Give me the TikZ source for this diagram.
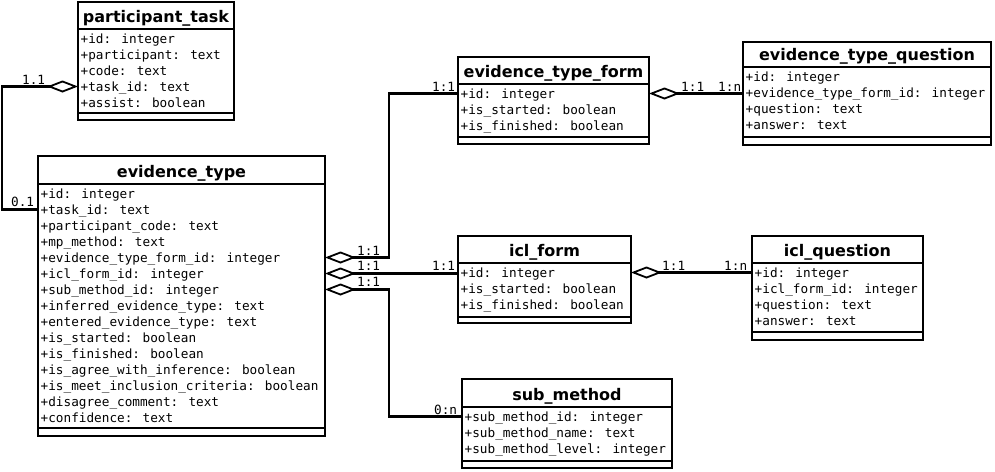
\documentclass[tikz,border=0pt]{standalone}
\usepackage{fontspec}
\usetikzlibrary{arrows.meta,fit}
\newfontfamily\clsfont{DejaVu Sans}
\newfontfamily\attrfont{DejaVu Sans Mono}

\tikzset{
  box/.style={draw, line width=2.4pt, inner sep=0pt, outer sep=0pt},
  clstitle/.style={inner sep=0pt, anchor=base,
    font=\clsfont\bfseries\fontsize{16}{16}\selectfont},
  attr/.style={inner sep=0pt, anchor=west,
    font=\attrfont\fontsize{12.7}{16}\selectfont, text height=9.2pt, text depth=0pt},
  mult/.style={inner sep=0pt, anchor=base west,
    font=\attrfont\fontsize{12.7}{16}\selectfont},
  agg/.style={line width=2.2pt,
    {Diamond[open, length=31pt, width=12pt, line width=1.8pt]}-},
}

% UML class: name, left, right, top, title/attribute separator,
% attribute/operation separator, bottom, title, attribute list
\newcommand\umlclass[9]{%
  \node[box, fit={(#2,#4) (#3,#5)}] (#1) {};
  \node[clstitle] (#1-t) at ({(#2+#3)/2}, #5-6.5) {#8};
  \node[box, fit={(#2,#5) (#3,#6)}] (#1-a) {};
  \node[box, fit={(#2,#6) (#3,#7)}] (#1-o) {};
  \foreach \t [count=\i] in {#9}
    \node[attr] (#1-r\i) at (#2+2.5, #5+9.5+16*\i-16) {\t};
}

\begin{document}
\begin{tikzpicture}[x=1pt, y=-1pt]
\fill[white] (0,0) rectangle (995,471);
\useasboundingbox (0,0) rectangle (995,471);

\umlclass{pt}{78}{234}{2}{29}{113}{120}{participant\_task}
  {+id: integer, +participant: text, +code: text, +task\_id: text, +assist: boolean}

\umlclass{et}{38}{325}{156}{184}{428}{436}{evidence\_type}
  {+id: integer, +task\_id: text, +participant\_code: text, +mp\_method: text,
   +evidence\_type\_form\_id: integer, +icl\_form\_id: integer,
   +sub\_method\_id: integer, +inferred\_evidence\_type: text,
   +entered\_evidence\_type: text, +is\_started: boolean, +is\_finished: boolean,
   +is\_agree\_with\_inference: boolean, +is\_meet\_inclusion\_criteria: boolean,
   +disagree\_comment: text, +confidence: text}

\umlclass{etf}{458}{649}{57}{84}{137}{144}{evidence\_type\_form}
  {+id: integer, +is\_started: boolean, +is\_finished: boolean}

\umlclass{etq}{743}{991}{42}{67}{137}{145}{evidence\_type\_question}
  {+id: integer, +evidence\_type\_form\_id: integer, +question: text, +answer: text}

\umlclass{iclf}{458}{631}{236}{263}{317}{323}{icl\_form}
  {+id: integer, +is\_started: boolean, +is\_finished: boolean}

\umlclass{iclq}{752}{923}{236}{263}{332}{340}{icl\_question}
  {+id: integer, +icl\_form\_id: integer, +question: text, +answer: text}

\umlclass{sm}{462}{672}{379}{407}{461}{468}{sub\_method}
  {+sub\_method\_id: integer, +sub\_method\_name: text, +sub\_method\_level: integer}

% bend columns of the routed connectors
\coordinate (lbend) at (2,0);
\coordinate (mbend) at (389,0);

% aggregations
\draw[agg] (pt-r4 -| pt-a.west) -- (pt-r4 -| lbend) |- (et-r2 -| et-a.west);
\draw[agg] (et-r5 -| et-a.east) -- (et-r5 -| mbend) |- (etf-r1 -| etf-a.west);
\draw[agg] (et-r6 -| et-a.east) -- (et-r6 -| iclf-a.west);
\draw[agg] (et-r7 -| et-a.east) -- (et-r7 -| mbend) |- (sm-r1 -| sm-a.west);
\draw[agg] (etf-r1 -| etf-a.east) -- (etf-r1 -| etq-a.west);
\draw[agg] (iclf-r1 -| iclf-a.east) -- (iclf-r1 -| iclq-a.west);

% multiplicities
\node[mult] (m1) at (22,84.5) {1.1};
\node[mult] (m2) at (11,206.5) {0.1};
\node[mult] (m3) at (357,255.5) {1:1};
\node[mult] (m4) at (357,270.5) {1:1};
\node[mult] (m5) at (357,286.5) {1:1};
\node[mult] (m6) at (432,91.5) {1:1};
\node[mult] (m7) at (432,270.5) {1:1};
\node[mult] (m8) at (434,414.5) {0:n};
\node[mult] (m9) at (681,91.5) {1:1};
\node[mult] (m10) at (718,91.5) {1:n};
\node[mult] (m11) at (662,270.5) {1:1};
\node[mult] (m12) at (724,270.5) {1:n};
\end{tikzpicture}
\end{document}
